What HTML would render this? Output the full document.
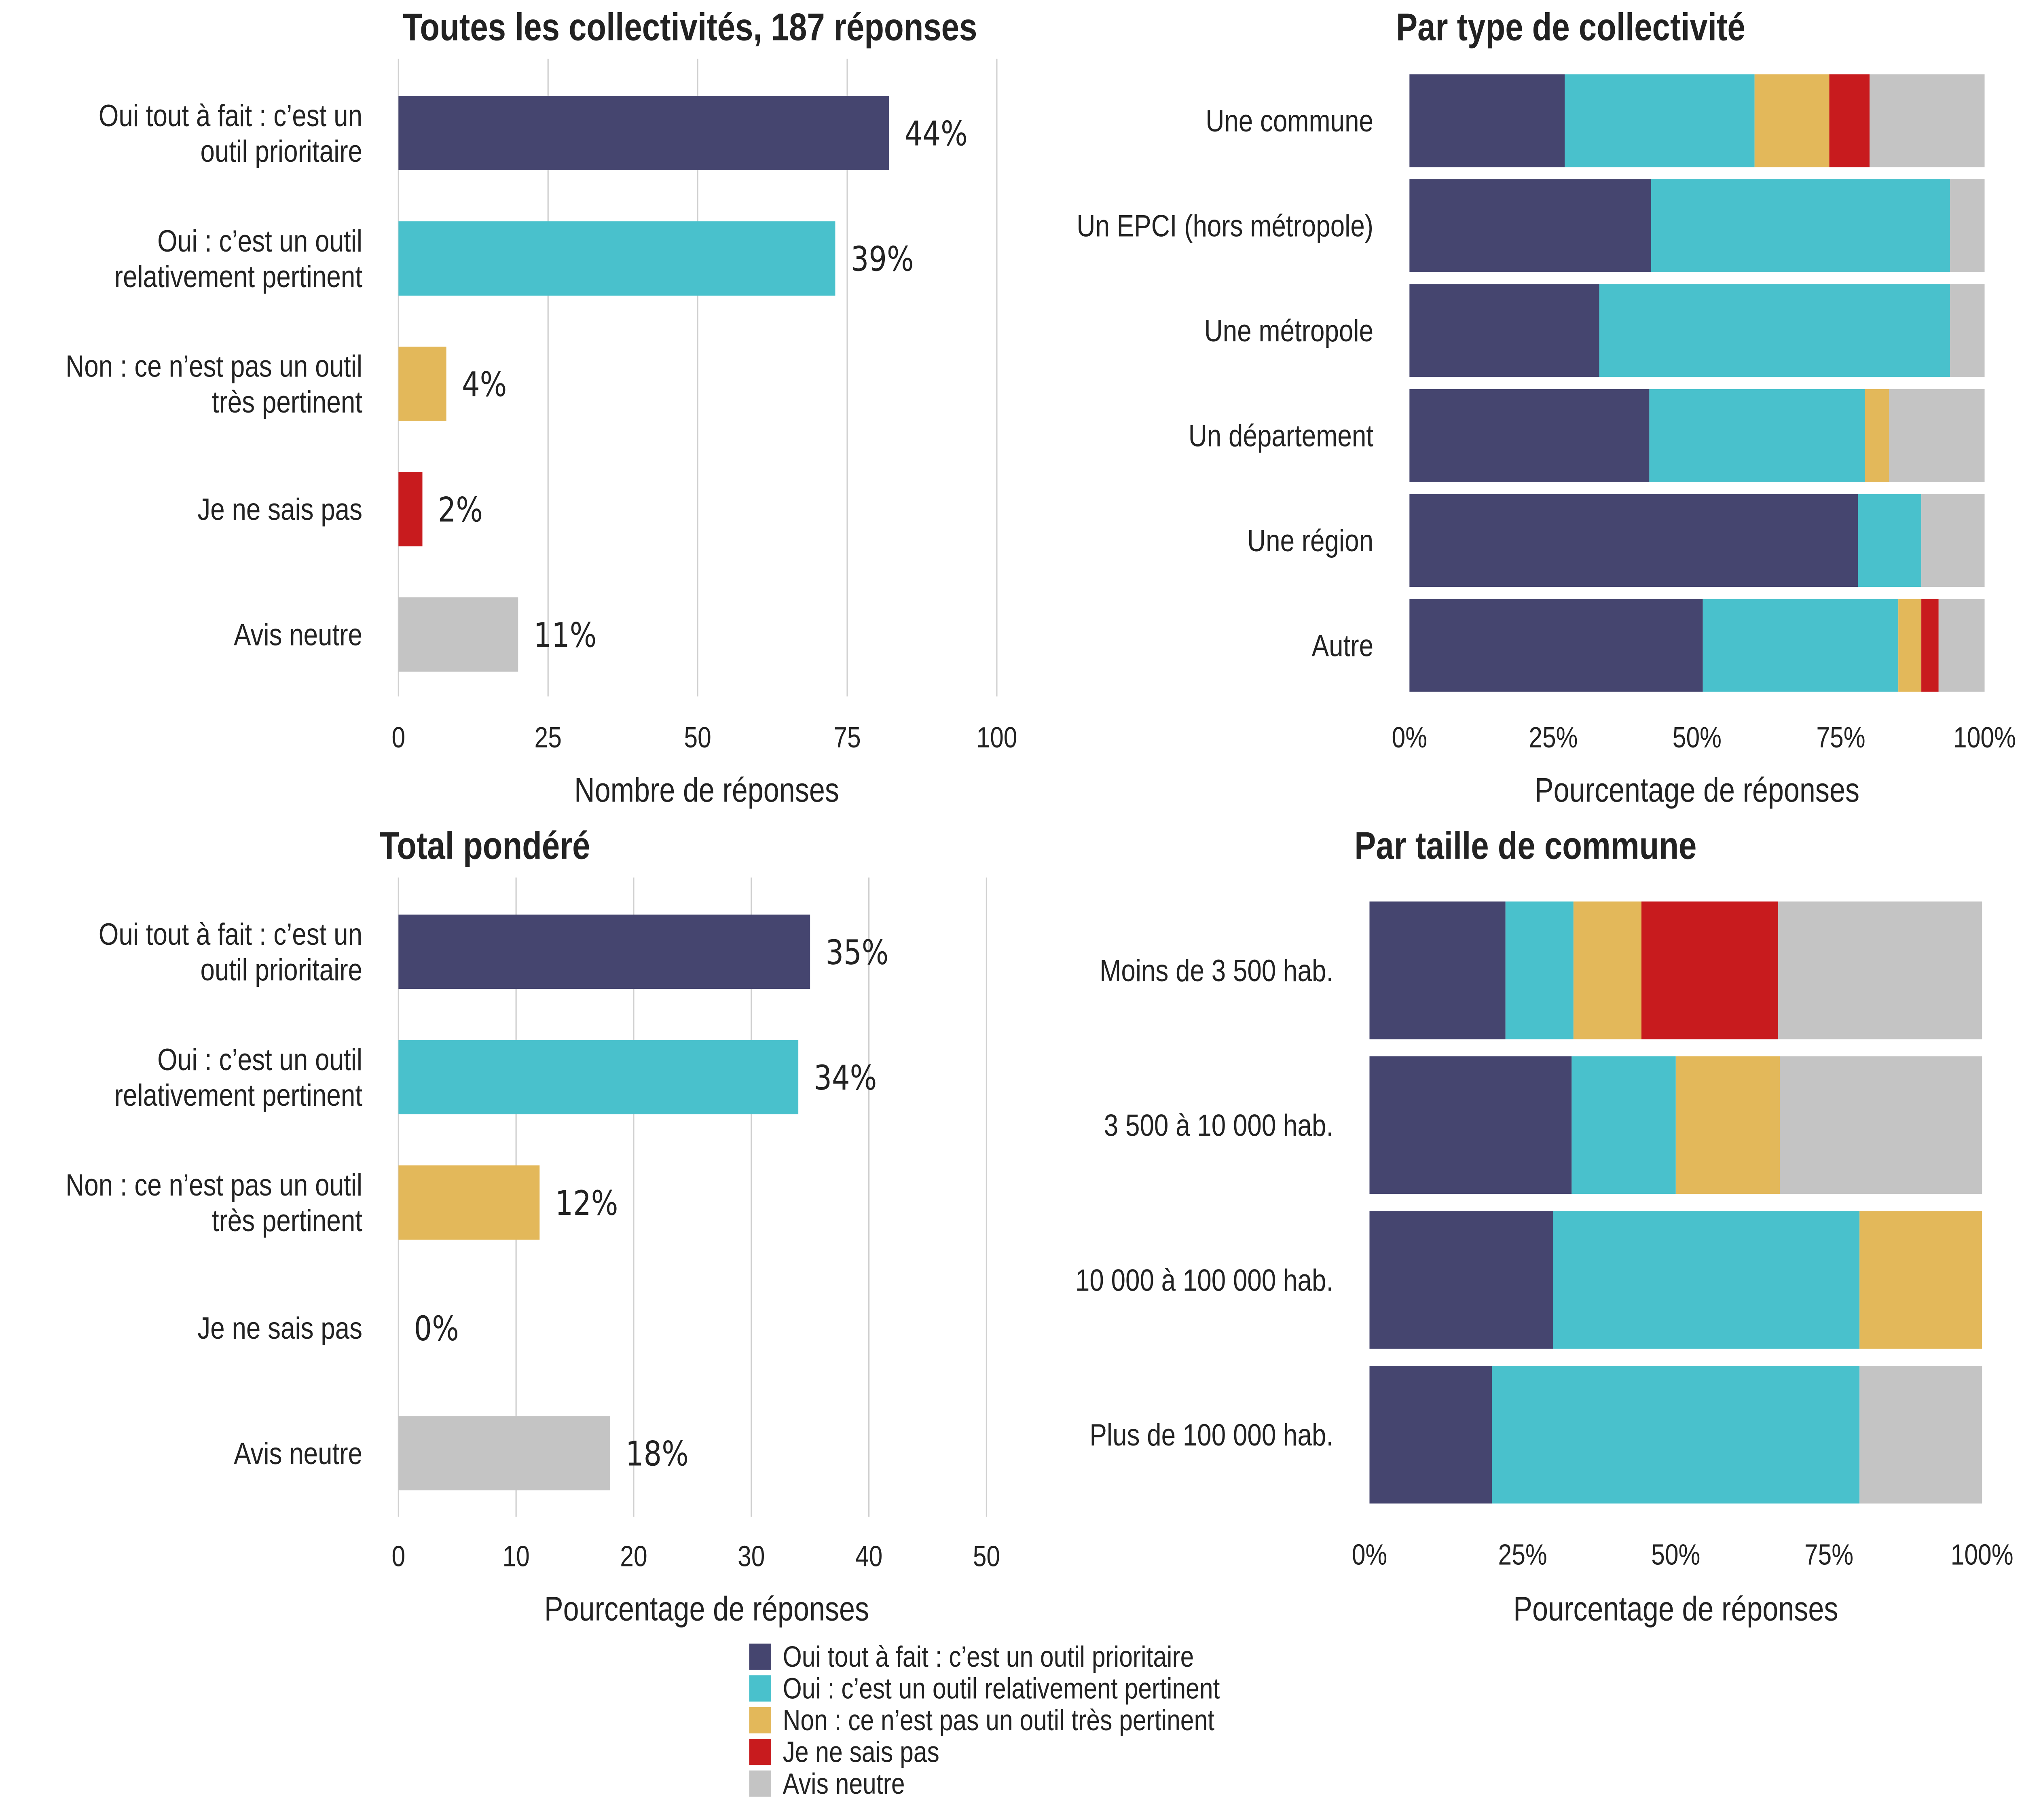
<!DOCTYPE html>
<html><head><meta charset="utf-8"><style>
html,body{margin:0;padding:0;background:#fff;width:100%;height:100%;overflow:hidden;}
svg{display:block;width:100vw;height:100vh;}
text{font-family:"Liberation Sans",sans-serif;fill:#222;}
</style></head><body>
<svg id="chart" viewBox="0 0 1568 1176" preserveAspectRatio="none" xmlns="http://www.w3.org/2000/svg">
<g id="g"></g>
</svg>
<script>
const colors = ["#45456f","#49c1cc","#e3b85a","#c81b1e","#c4c4c4"];
const answers = ["Oui tout à fait : c’est un outil prioritaire","Oui : c’est un outil relativement pertinent","Non : ce n’est pas un outil très pertinent","Je ne sais pas","Avis neutre"];
const answerLines = [["Oui tout à fait : c’est un","outil prioritaire"],["Oui : c’est un outil","relativement pertinent"],["Non : ce n’est pas un outil","très pertinent"],["Je ne sais pas"],["Avis neutre"]];
const countValues = [82,73,8,4,20];
const countPct = ["44%","39%","4%","2%","11%"];
const countTicks = [0,25,50,75,100];
const weightedValues = [35,34,12,0,18];
const weightedPct = ["35%","34%","12%","0%","18%"];
const weightedTicks = [0,10,20,30,40,50];
const typeCats = ["Une commune","Un EPCI (hors métropole)","Une métropole","Un département","Une région","Autre"];
const typeS1 = [27,42,33,41.7,78,51];
const typeS2 = [33,52,61,37.5,11,34];
const typeS3 = [13,0,0,4.2,0,4];
const typeS4 = [7,0,0,0,0,3];
const typeS5 = [20,6,6,16.6,11,8];
const sizeCats = ["Moins de 3 500 hab.","3 500 à 10 000 hab.","10 000 à 100 000 hab.","Plus de 100 000 hab."];
const sizeS1 = [22.2,33,30,20];
const sizeS2 = [11.1,17,50,60];
const sizeS3 = [11.1,17,20,0];
const sizeS4 = [22.3,0,0,0];
const sizeS5 = [33.3,33,0,20];
const pctTicks = [0,25,50,75,100];

const NS="http://www.w3.org/2000/svg";
const g=document.getElementById('g');
function el(tag,attrs,txt){const e=document.createElementNS(NS,tag);for(const k in attrs)e.setAttribute(k,attrs[k]);if(txt!==undefined)e.textContent=txt;g.appendChild(e);return e;}

function barPanel(o){
  const sx=v=>o.x0+(v-o.min)/(o.max-o.min)*(o.x1-o.x0);
  o.ticks.forEach(t=>{
    const gl=el('line',{x1:sx(t),x2:sx(t),y1:o.gy0,y2:o.gy1,stroke:'#d0d0d0','stroke-width':1});
    
    
    const tl=el('text',{x:sx(t),y:o.tickY,'font-size':19,'text-anchor':'middle'},String(t));
    
    
  });
  o.vals.forEach((v,i)=>{
    const cy=o.cy0+i*o.step;
    const r=el('rect',{x:o.x0,y:cy-24,width:Math.max(0,sx(v)-o.x0),height:48,fill:colors[i]});
    
    
    const vl=el('text',{x:sx(v)+12,y:cy+8,'font-size':22,style:'font-family:"DejaVu Sans",sans-serif'},o.labels[i]);
    
    
    const lines=answerLines[i];
    lines.forEach((ln,j)=>{
      const yy=cy+7+(j-(lines.length-1)/2)*23;
      const cl=el('text',{x:281,y:yy,'font-size':20,'text-anchor':'end'},ln);
      
      
    });
  });
  const at=el('text',{x:(o.x0+773)/2+7,y:o.titleY,'font-size':22,'text-anchor':'middle'},o.axisTitle);
  
  
}

function stackPanel(o){
  const sx=v=>o.x0+v/100*(o.x1-o.x0);
  const series=[o.s1,o.s2,o.s3,o.s4,o.s5];
  o.cats.forEach((c,i)=>{
    const cy=o.cy0+i*o.step;
    let acc=0;
    series.forEach((s,k)=>{
      const v=s[i];
      if(v>0){
        const r=el('rect',{x:sx(acc),y:cy-o.h/2,width:sx(acc+v)-sx(acc),height:o.h,fill:colors[k]});
        
        
      }
      acc+=v;
    });
    const cl=el('text',{x:o.x0-28,y:cy+7,'font-size':20,'text-anchor':'end'},c);
    
    
  });
  pctTicks.forEach(t=>{
    const tl=el('text',{x:sx(t),y:o.tickY,'font-size':19,'text-anchor':'middle'},t+'%');
    
    
  });
  const at=el('text',{x:(o.x0+o.x1)/2,y:o.titleY,'font-size':22,'text-anchor':'middle'},'Pourcentage de réponses');
  
  
}

function title(x,y,t){const e=el('text',{x:x,y:y,'font-size':25,'font-weight':'bold','text-anchor':'middle'},t);

}

barPanel({x0:309,x1:773,min:0,max:100,ticks:countTicks,vals:countValues,labels:countPct,cy0:86,step:81,gy0:38,gy1:450,tickY:483,titleY:518,axisTitle:'Nombre de réponses'});
barPanel({x0:309,x1:765,min:0,max:50,ticks:weightedTicks,vals:weightedValues,labels:weightedPct,cy0:615,step:81,gy0:567,gy1:980,tickY:1012,titleY:1047,axisTitle:'Pourcentage de réponses'});
stackPanel({x0:1093,x1:1539,cats:typeCats,s1:typeS1,s2:typeS2,s3:typeS3,s4:typeS4,s5:typeS5,cy0:78,step:67.8,h:60,tickY:483,titleY:518});
stackPanel({x0:1062,x1:1537,cats:sizeCats,s1:sizeS1,s2:sizeS2,s3:sizeS3,s4:sizeS4,s5:sizeS5,cy0:627,step:100,h:89,tickY:1011,titleY:1047});
title(535,26,'Toutes les collectivités, 187 réponses');
title(1218,26,'Par type de collectivité');
title(376,555,'Total pondéré');
title(1183,555,'Par taille de commune');
answers.forEach((a,i)=>{
  const y=1062+i*20.5;
  const r=el('rect',{x:581,y:y,width:17,height:17,fill:colors[i]});
  
  
  const t=el('text',{x:607,y:y+15,'font-size':19},a);
  
  
});
</script>
</body></html>
